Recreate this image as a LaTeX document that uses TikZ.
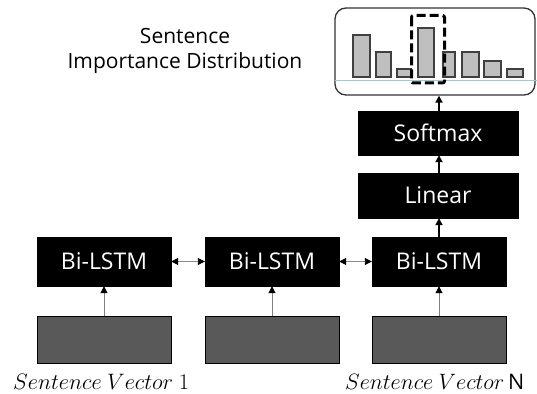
\documentclass[tikz,border=0pt]{standalone}
\usepackage{graphicx}
\usepackage{fontspec}
\setmainfont{Open Sans}
\usetikzlibrary{arrows.meta}

\tikzset{
  blockbox/.style={draw=black, fill=black, text=white, minimum width=134pt, minimum height=49pt,
    inner sep=0pt, font=\fontsize{23}{27}\selectfont},
  headbox/.style={blockbox, minimum width=160pt, minimum height=45pt},
  vecbox/.style={draw=black, line width=0.8pt, fill=black!65, minimum width=134pt, minimum height=47pt, inner sep=0pt},
  distbox/.style={draw=black!80, line width=1.3pt, rounded corners=11pt, fill=white,
    minimum width=200pt, minimum height=87pt, inner sep=0pt},
  bar/.style={draw=black!75, line width=1.1pt, fill=black!25},
  tip/.style={-{Triangle[length=7pt,width=7pt,color=black]}},
  feed/.style={tip, draw=black!50, line width=0.9pt},
  link/.style={{Triangle[length=7pt,width=7pt,color=black]}-{Triangle[length=7pt,width=7pt,color=black]},
    draw=black!45, line width=0.9pt},
  flow/.style={tip, draw=black, line width=2pt},
  vlabel/.style={inner sep=0pt, anchor=base west, font=\fontsize{24}{28}\selectfont},
}

\begin{document}
\begin{tikzpicture}[x=1pt,y=-1pt]
\useasboundingbox (0,0) rectangle (537,393);

% input sentence vectors
\node[vecbox] (g1) at (104,339.5) {};
\node[vecbox] (g2) at (272,339.5) {};
\node[vecbox] (g3) at (439,339.5) {};

% recurrent encoder
\node[blockbox] (b1) at (104,261.5) {Bi-LSTM};
\node[blockbox] (b2) at (272,261.5) {Bi-LSTM};
\node[blockbox] (b3) at (439,261.5) {Bi-LSTM};

% output head
\node[headbox] (lin) at (438,195.5) {Linear};
\node[headbox, minimum height=44pt] (soft) at (438,133) {Softmax};

% distribution panel
\node[distbox] (dist) at (435,51.5) {};
\draw[draw=teal!40, line width=0.8pt] (335,80) -- (537,80);
\foreach \xa/\xb/\top in {353/370/35, 376/391/52, 397/411/69, 418/434/28,
                          443/455/52, 462/479/52, 484/501/61, 507/523/69}
  \draw[bar] (\xa,77) rectangle (\xb,\top);
\draw[line width=3pt, dash pattern=on 9pt off 4pt, rounded corners=2pt] (411.5,15.5) rectangle (444.5,83);

\node[align=center, font=\fontsize{21}{25}\selectfont] (title) at (185,51) {Sentence\\Importance Distribution};

% connectors
\draw[feed] (g1.north) -- (b1.south);
\draw[feed] (g2.north) -- (b2.south);
\draw[feed] (g3.north) -- (b3.south);
\draw[link] (b1.east) -- (b2.west);
\draw[link] (b2.east) -- (b3.west);
\draw[flow] (b3.north) -- (b3.north |- lin.south);
\draw[flow] (b3.north |- lin.north) -- (b3.north |- soft.south);
\draw[flow] (b3.north |- soft.north) -- (b3.north |- dist.south);

% captions
\node[vlabel] (c1) at (13,389.5) {\resizebox{176pt}{!}{$Sentence\ Vector\ 1$}};
\node[vlabel] (cN) at (345,389.5) {\resizebox{179pt}{!}{$Sentence\ Vector$\,N}};
\end{tikzpicture}
\end{document}
